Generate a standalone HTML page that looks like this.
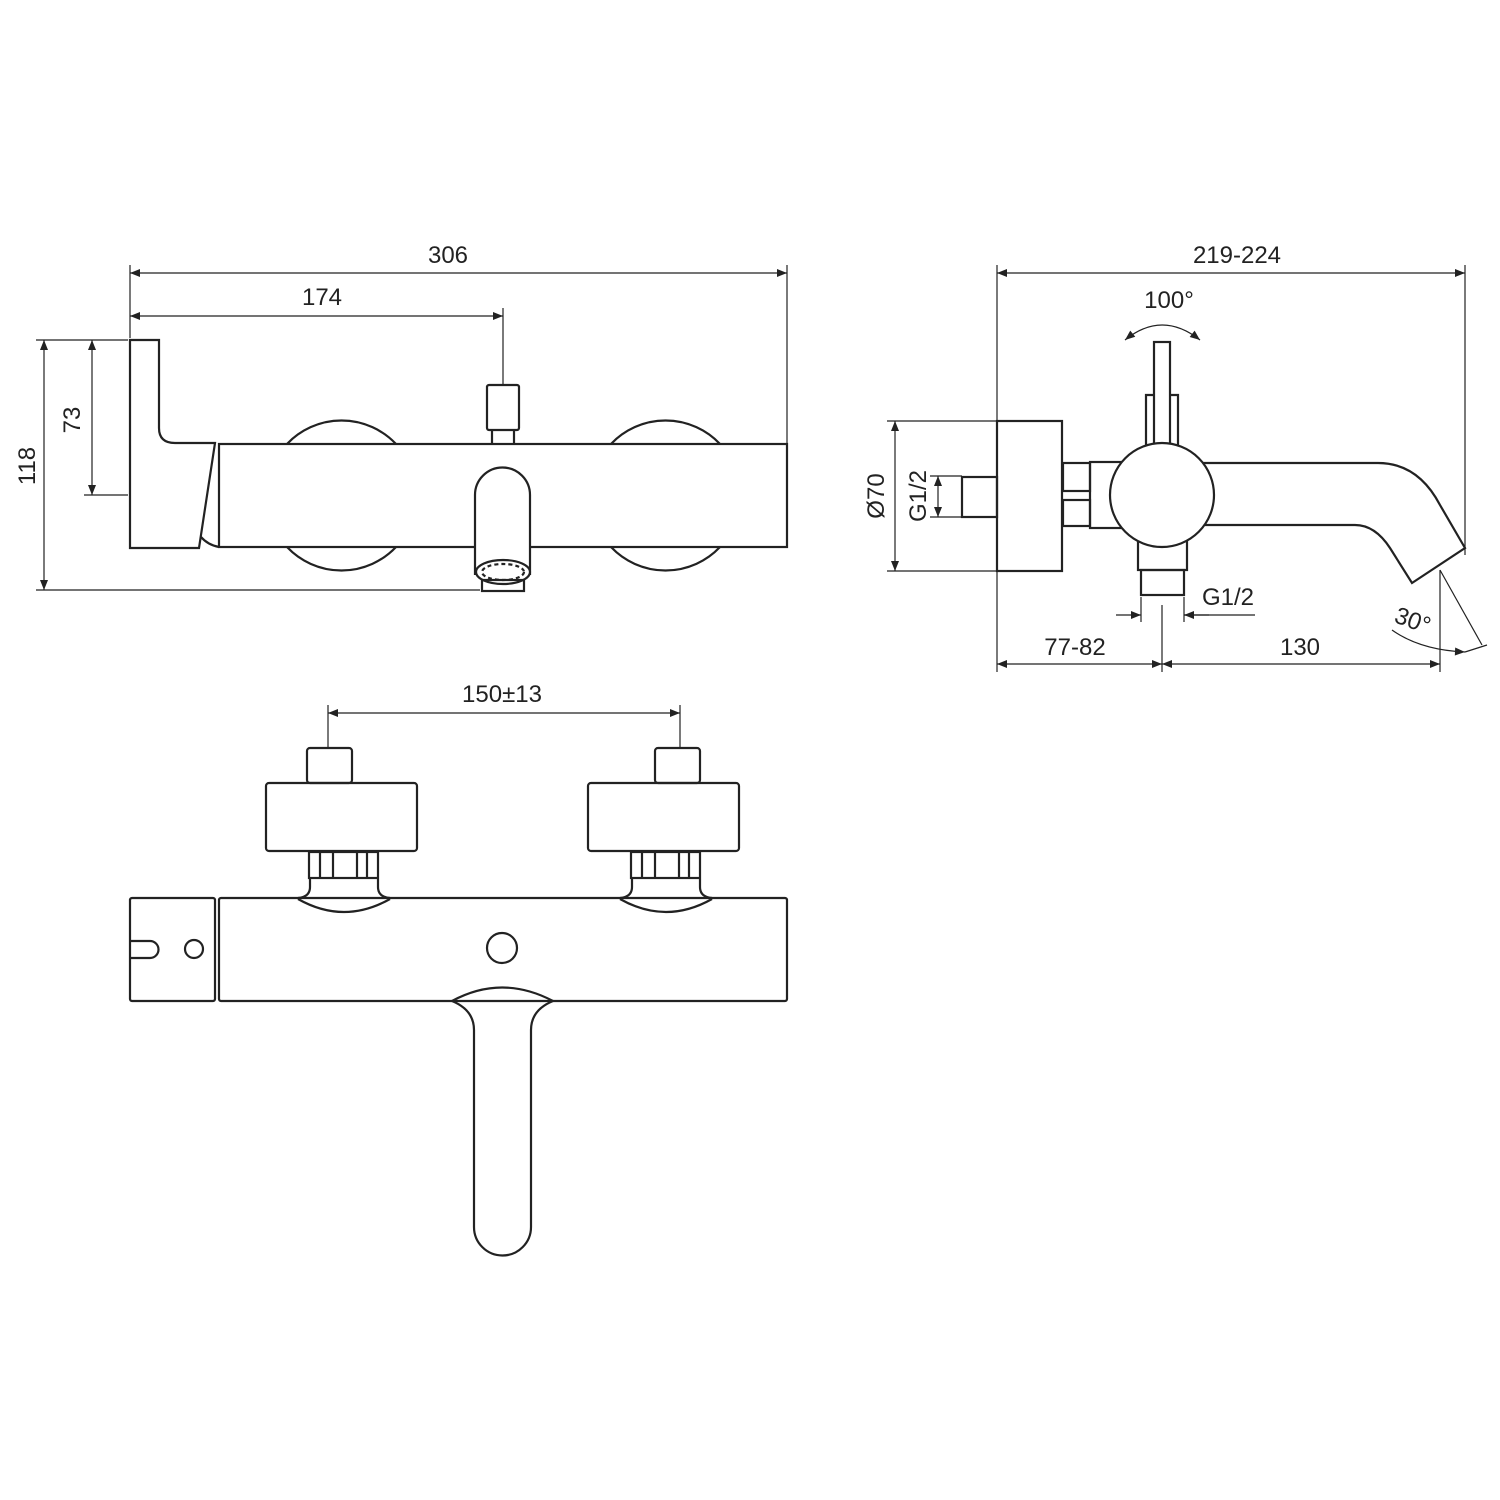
<!DOCTYPE html>
<html><head><style>body{margin:0;background:#fff}svg{display:block}text{font-family:"Liberation Sans",sans-serif;fill:#222}</style></head><body>
<svg width="1500" height="1500" viewBox="0 0 1500 1500" xmlns="http://www.w3.org/2000/svg">
<defs>
<marker id="a" viewBox="0 0 10 10" refX="10" refY="5" markerWidth="24" markerHeight="10" markerUnits="userSpaceOnUse" orient="auto-start-reverse"><path d="M0,1 L10,5 L0,9z" fill="#222"/></marker>
</defs>
<g stroke="#222" fill="none" stroke-width="1.2">
<line x1="130" y1="273" x2="787" y2="273" marker-start="url(#a)" marker-end="url(#a)"/>
<line x1="130" y1="316" x2="503" y2="316" marker-start="url(#a)" marker-end="url(#a)"/>
<line x1="130" y1="265" x2="130" y2="338"/><line x1="787" y1="265" x2="787" y2="443"/><line x1="503" y1="308" x2="503" y2="384"/>
<line x1="44" y1="340" x2="44" y2="590" marker-start="url(#a)" marker-end="url(#a)"/>
<line x1="92" y1="340" x2="92" y2="495" marker-start="url(#a)" marker-end="url(#a)"/>
<line x1="36" y1="340" x2="128" y2="340"/><line x1="36" y1="590" x2="480" y2="590"/><line x1="84" y1="495" x2="128" y2="495"/>
</g>
<g stroke="#222" fill="none" stroke-width="2.2">
<path d="M287,444 A75,75 0 0 1 396,444 M287,547 A75,75 0 0 0 396,547"/>
<path d="M611,444 A75,75 0 0 1 720,444 M611,547 A75,75 0 0 0 720,547"/>
<path d="M130,548 V340 H159 V428 Q159,443 175,443 H215 L199,548 Z"/>
<path d="M201,537 Q208,545 219,547"/>
<rect x="219" y="444" width="568" height="103"/>
<rect x="487" y="385" width="32" height="45" rx="2"/>
<path d="M492,430 V444 M514,430 V444"/>
<path d="M475,575 V495 A27.5,27.5 0 0 1 530,495 V575" fill="#fff"/>
<ellipse cx="503" cy="572" rx="27" ry="12" fill="#fff"/>
<ellipse cx="503" cy="572" rx="21" ry="8" stroke-dasharray="4 3"/>
<rect x="482" y="580" width="42" height="11"/>
</g>
<g font-size="24">
<text x="448" y="263" text-anchor="middle">306</text>
<text x="322" y="305" text-anchor="middle">174</text>
<text transform="translate(35,466) rotate(-90)" text-anchor="middle">118</text>
<text transform="translate(80,420) rotate(-90)" text-anchor="middle">73</text>
</g>
<g stroke="#222" fill="none" stroke-width="1.2">
<line x1="997" y1="273" x2="1465" y2="273" marker-start="url(#a)" marker-end="url(#a)"/>
<line x1="997" y1="265" x2="997" y2="672"/><line x1="1465" y1="265" x2="1465" y2="555"/>
<line x1="895" y1="421" x2="895" y2="571" marker-start="url(#a)" marker-end="url(#a)"/>
<line x1="887" y1="421" x2="997" y2="421"/><line x1="887" y1="571" x2="997" y2="571"/>
<line x1="938" y1="476" x2="938" y2="517" marker-start="url(#a)" marker-end="url(#a)"/>
<line x1="930" y1="476" x2="962" y2="476"/><line x1="930" y1="517" x2="962" y2="517"/>
<line x1="997" y1="664" x2="1162" y2="664" marker-start="url(#a)" marker-end="url(#a)"/>
<line x1="1162" y1="664" x2="1440" y2="664" marker-start="url(#a)" marker-end="url(#a)"/>
<line x1="1162" y1="605" x2="1162" y2="672"/><line x1="1440" y1="570" x2="1440" y2="672"/>
<line x1="1141" y1="597" x2="1141" y2="622"/><line x1="1184" y1="597" x2="1184" y2="622"/>
<line x1="1116" y1="615" x2="1141" y2="615" marker-end="url(#a)"/>
<line x1="1209" y1="615" x2="1184" y2="615" marker-end="url(#a)"/>
<line x1="1184" y1="615" x2="1255" y2="615"/>
<path d="M1125,340 Q1162,310 1200,340" marker-start="url(#a)" marker-end="url(#a)"/>
<line x1="1440" y1="570" x2="1482" y2="645"/>
<path d="M1392,630 Q1420,650 1465,652" marker-end="url(#a)"/>
<line x1="1487" y1="645" x2="1465" y2="652"/>
</g>
<g stroke="#222" fill="none" stroke-width="2.2">
<rect x="997" y="421" width="65" height="150"/>
<rect x="962" y="477" width="35" height="40"/>
<rect x="1063" y="463" width="27" height="28"/><rect x="1063" y="500" width="27" height="26"/>
<rect x="1090" y="462" width="36" height="66"/>
<path d="M1146,395 H1178 V447 H1146 Z"/>
<rect x="1154" y="342" width="16" height="110" fill="#fff"/>
<path d="M1200,463 H1378 Q1418,463 1440,505 L1465,548 L1412,583 L1390,548 Q1375,525 1355,525 H1205"/>
<rect x="1138" y="538" width="49" height="32" fill="#fff"/>
<rect x="1141" y="570" width="43" height="25"/>
<circle cx="1162" cy="495" r="52" fill="#fff"/>
</g>
<g font-size="24">
<text x="1237" y="263" text-anchor="middle">219-224</text>
<text x="1169" y="308" text-anchor="middle">100°</text>
<text transform="translate(884,496) rotate(-90)" text-anchor="middle">Ø70</text>
<text transform="translate(926,496) rotate(-90)" text-anchor="middle">G1/2</text>
<text x="1228" y="605" text-anchor="middle">G1/2</text>
<text x="1075" y="655" text-anchor="middle">77-82</text>
<text x="1300" y="655" text-anchor="middle">130</text>
<text transform="translate(1410,628) rotate(20)" text-anchor="middle">30°</text>
</g>
<g stroke="#222" fill="none" stroke-width="1.2">
<line x1="328" y1="713" x2="680" y2="713" marker-start="url(#a)" marker-end="url(#a)"/>
<line x1="328" y1="705" x2="328" y2="748"/><line x1="680" y1="705" x2="680" y2="748"/>
</g>
<g stroke="#222" fill="none" stroke-width="2.2">
<rect x="307" y="748" width="45" height="35" rx="3"/><rect x="655" y="748" width="45" height="35" rx="3"/>
<rect x="266" y="783" width="151" height="68" rx="3"/><rect x="588" y="783" width="151" height="68" rx="3"/>
<rect x="309" y="852" width="69" height="26"/><path d="M320,852 V878 M333,852 V878 M357,852 V878 M367,852 V878"/>
<rect x="631" y="852" width="69" height="26"/><path d="M642,852 V878 M655,852 V878 M679,852 V878 M689,852 V878"/>
<path d="M310,879 V887 Q310,897 298,898 M378,879 V887 Q378,897 390,898"/>
<path d="M632,879 V887 Q632,897 620,898 M700,879 V887 Q700,897 712,898"/>
<rect x="130" y="898" width="85" height="103" rx="2"/>
<rect x="219" y="898" width="568" height="103" rx="2"/>
<path d="M298,899 Q344,925 390,899 M620,899 Q666,925 712,899"/>
<circle cx="502" cy="948" r="15"/><circle cx="194" cy="949" r="9"/>
<path d="M130,941 H150 A8.5,8.5 0 0 1 150,958 H130"/>
<path d="M452,1001 Q502,974 553,1001"/>
<path d="M452,1001 Q474,1010 474,1030 V1227 A28.5,28.5 0 0 0 531,1227 V1030 Q531,1010 553,1001"/>
</g>
<text x="502" y="702" font-size="24" text-anchor="middle">150±13</text>
</svg>
</body></html>
